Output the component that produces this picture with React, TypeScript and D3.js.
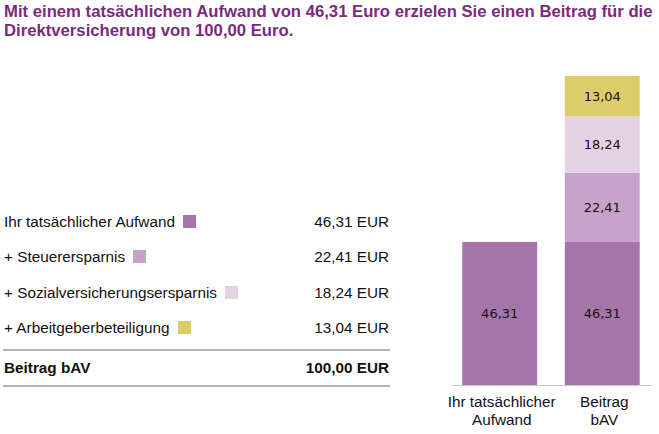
import React from "react";
import * as d3 from "d3";

const titleLines = [
  "Mit einem tatsächlichen Aufwand von 46,31 Euro erzielen Sie einen Beitrag für die",
  "Direktversicherung von 100,00 Euro.",
];
const seriesNames = [
  "Ihr tatsächlicher Aufwand",
  "+ Steuerersparnis",
  "+ Sozialversicherungsersparnis",
  "+ Arbeitgeberbeteiligung",
];
const seriesValues = [46.31, 22.41, 18.24, 13.04];
const seriesColors = ["#a575a9", "#c6a1c9", "#e3d2e4", "#dccd68"];
const totalLabel = "Beitrag bAV";
const totalValue = 100.0;
const categories = [
  ["Ihr tatsächlicher", "Aufwand"],
  ["Beitrag", "bAV"],
];
// which series are included in each category's stack
const categorySeries = [[0], [0, 1, 2, 3]];

const fmt = (v: number) => v.toFixed(2).replace(".", ",");

export default function App() {
  const W = 659;
  const H = 434;
  const x = d3
    .scaleBand<number>()
    .domain([0, 1])
    .range([450, 652])
    .paddingInner(0.27)
    .paddingOuter(0.12);
  const y = d3.scaleLinear().domain([0, 100]).range([385, 76]);

  const stackData = categorySeries.map((idx) => {
    const row: Record<string, number> = {};
    seriesValues.forEach((v, i) => (row["s" + i] = idx.includes(i) ? v : 0));
    return row;
  });
  const stack = d3.stack<Record<string, number>>().keys(seriesValues.map((_, i) => "s" + i));
  const layers = stack(stackData);

  const rowY = [221, 256, 292, 327];
  const legendX = [183, 133, 225, 178];
  const font = "'Liberation Sans', Arial, sans-serif";
  const fs = 15.3;

  return (
    <svg width={W} height={H} style={{ position: "absolute", left: 0, top: 0 }}>
      {titleLines.map((t, i) => (
        <text
          key={i}
          x={4}
          y={17 + i * 19}
          fontFamily={font}
          fontWeight="bold"
          fontSize={16.7}
          fill="#7a2b7d"
        >
          {t}
        </text>
      ))}
      {seriesNames.map((n, i) => (
        <g key={n} fontFamily={font} fontSize={fs} fill="#111">
          <text x={4} y={rowY[i]} dominantBaseline="central">
            {n}
          </text>
          <rect x={legendX[i]} y={rowY[i] - 6} width={13} height={13} fill={seriesColors[i]} />
          <text x={389} y={rowY[i]} textAnchor="end" dominantBaseline="central">
            {fmt(seriesValues[i])} EUR
          </text>
        </g>
      ))}
      <line x1={3} x2={390} y1={350} y2={350} stroke="#b3b3b3" strokeWidth={2} />
      <g fontFamily={font} fontSize={fs} fontWeight="bold" fill="#111">
        <text x={4} y={367} dominantBaseline="central">
          {totalLabel}
        </text>
        <text x={389} y={367} textAnchor="end" dominantBaseline="central">
          {fmt(totalValue)} EUR
        </text>
      </g>
      <line x1={3} x2={390} y1={386} y2={386} stroke="#b3b3b3" strokeWidth={2} />

      {layers.map((layer, li) =>
        layer.map((d, ci) => {
          if (d[1] - d[0] <= 0) return null;
          const bx = x(ci)!;
          const y0 = y(d[0]);
          const y1 = y(d[1]);
          return (
            <g key={li + "-" + ci}>
              <rect x={bx} y={y1} width={x.bandwidth()} height={y0 - y1} fill={seriesColors[li]} />
              <text
                x={bx + x.bandwidth() / 2}
                y={(y0 + y1) / 2}
                textAnchor="middle"
                dominantBaseline="central"
                fontFamily="'DejaVu Sans', Verdana, sans-serif"
                fontSize={13}
                fill="#111"
              >
                {fmt(d[1] - d[0])}
              </text>
            </g>
          );
        })
      )}
      <line x1={452} x2={652} y1={385.5} y2={385.5} stroke="#c8c8c8" strokeWidth={1} />
      {categories.map((lines, ci) => (
        <text key={ci} textAnchor="middle" fontFamily={font} fontSize={fs} fill="#111">
          {lines.map((l, j) => (
            <tspan key={j} x={x(ci)! + x.bandwidth() / 2 + 2} y={407 + j * 18}>
              {l}
            </tspan>
          ))}
        </text>
      ))}
    </svg>
  );
}
